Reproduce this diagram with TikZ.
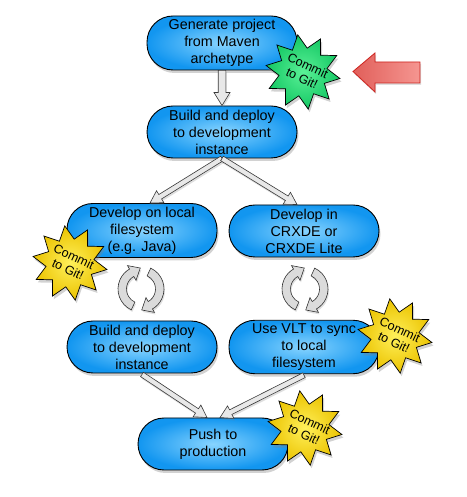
\documentclass[tikz,border=0pt]{standalone}
\usepackage{fontspec}
\setmainfont{Liberation Sans}
\usetikzlibrary{shapes.geometric,shadows,calc}
\definecolor{bOut}{RGB}{18,150,240}
\definecolor{bIn}{RGB}{135,212,255}
\definecolor{gOut}{RGB}{20,200,100}
\definecolor{gIn}{RGB}{90,240,150}
\definecolor{yOut}{RGB}{235,195,0}
\definecolor{yIn}{RGB}{255,240,90}
\definecolor{rL}{RGB}{225,95,90}
\definecolor{rR}{RGB}{245,150,145}
\definecolor{rD}{RGB}{205,35,30}
\tikzset{
  stepbox/.style={rectangle, rounded corners=26pt, minimum width=150pt, minimum height=52pt,
    draw=black, line width=0.9pt, inner color=bIn, outer color=bOut, align=center,
    font=\fontsize{14.3}{17}\selectfont,
    drop shadow={opacity=0.35, shadow xshift=1.5pt, shadow yshift=-3pt}},
  burst/.style={star, star points=10, star point ratio=1.55, minimum size=75pt, inner sep=0pt,
    draw=black, line width=0.7pt, rotate=8,
    drop shadow={opacity=0.35, shadow xshift=1.5pt, shadow yshift=-3pt}},
  gburst/.style={burst, inner color=gIn, outer color=gOut},
  yburst/.style={burst, inner color=yIn, outer color=yOut},
  bursttext/.style={rotate=-25, align=center, font=\fontsize{12.5}{14}\selectfont, inner sep=0pt},
  hollow/.style={fill=gray!18, draw=gray!45!black, line width=0.6pt,
    drop shadow={opacity=0.25, shadow xshift=1pt, shadow yshift=-2pt}},
  cycarrow/.style={fill=gray!28, draw=gray!40!black, line width=0.6pt,
    drop shadow={opacity=0.25, shadow xshift=1pt, shadow yshift=-2pt}},
  redarrow/.style={left color=rL, right color=rR, draw=rD, line width=0.8pt,
    drop shadow={opacity=0.25, shadow xshift=1pt, shadow yshift=-2pt}}
}
% hollow arrow: start, end, half shaft width, half head width, head length
\newcommand\harrow[5]{%
  \path (#1) coordinate (hS) (#2) coordinate (hT);
  \path ($(hT)!#5!(hS)$) coordinate (hB);
  \draw[hollow] ($(hS)!#3!90:(hT)$) -- ($(hB)!#3!90:(hT)$) -- ($(hB)!#4!90:(hT)$) -- (hT)
    -- ($(hB)!#4!-90:(hT)$) -- ($(hB)!#3!-90:(hT)$) -- ($(hS)!#3!-90:(hT)$) -- cycle;
}
% pair of circular arrows around a centre coordinate (name without parentheses)
\newcommand\cycpair[1]{%
  \draw[cycarrow] ([shift={(245:23)}]#1) arc[start angle=245, end angle=120, radius=23]
    -- ([shift={(120:27)}]#1) -- ([shift={(92:21)}]#1) -- ([shift={(120:10)}]#1)
    -- ([shift={(120:14.5)}]#1) arc[start angle=120, end angle=245, radius=14.5] -- cycle;
  \draw[cycarrow] ([shift={(65:23)}]#1) arc[start angle=65, end angle=-60, radius=23]
    -- ([shift={(-60:27)}]#1) -- ([shift={(-88:21)}]#1) -- ([shift={(-60:10)}]#1)
    -- ([shift={(-60:14.5)}]#1) arc[start angle=-60, end angle=65, radius=14.5] -- cycle;
}
\begin{document}
\begin{tikzpicture}[x=1pt, y=1pt]
\useasboundingbox[fill=white] (0,0) rectangle (466,497);
% process boxes
\node[stepbox] (n1) at (222,454) {Generate project\\from Maven\\archetype};
\node[stepbox] (n2) at (222,365) {Build and deploy\\to development\\instance};
\node[stepbox] (n3) at (142,266.5) {Develop on local\\filesystem\\(e.g. Java)};
\node[stepbox] (n4) at (304,266) {Develop in\\CRXDE or\\CRXDE Lite};
\node[stepbox] (n5) at (142,150) {Build and deploy\\to development\\instance};
\node[stepbox] (n6) at (304,150) {Use VLT to sync\\to local\\filesystem};
\node[stepbox] (n7) at (213,53) {Push to\\production};
% connectors
\coordinate (t3) at ($(n3.north)+(8,0)$);
\coordinate (t4) at ($(n4.north)+(-7,0)$);
\coordinate (t7a) at ($(n7.north)+(-6,0)$);
\coordinate (t7b) at ($(n7.north)+(7,0)$);
\coordinate (s5) at ($(n5.south)+(0,-1)$);
\coordinate (s6) at ($(n6.south)+(0,-1)$);
\harrow{n1.south}{n2.north}{3.8pt}{8pt}{13pt}
\harrow{n2.south}{t3}{2.6pt}{7pt}{12pt}
\harrow{n2.south}{t4}{2.6pt}{7pt}{12pt}
\harrow{s5}{t7a}{2.6pt}{7pt}{12pt}
\harrow{s6}{t7b}{2.6pt}{7pt}{12pt}
% cycle arrows
\coordinate (c1) at (141,208);
\coordinate (c2) at (305,208);
\cycpair{c1}
\cycpair{c2}
% commit bursts
\node[gburst] (g1) at (303,425) {};
\node[bursttext] at ($(g1)+(2,0)$) {Commit\\to Git!};
\node[yburst] (y1) at (70,234) {};
\node[bursttext] at ($(y1)+(1,0)$) {Commit\\to Git!};
\node[yburst] (y2) at (395,161) {};
\node[bursttext] at ($(y2)+(2,0)$) {Commit\\to Git!};
\node[yburst] (y3) at (305,69) {};
\node[bursttext] at ($(y3)+(2,0)$) {Commit\\to Git!};
% red pointer arrow
\draw[redarrow] (353,425.5) -- (375,444) -- (375,435) -- (420,435) -- (420,414)
  -- (375,414) -- (375,405) -- cycle;
\end{tikzpicture}
\end{document}
